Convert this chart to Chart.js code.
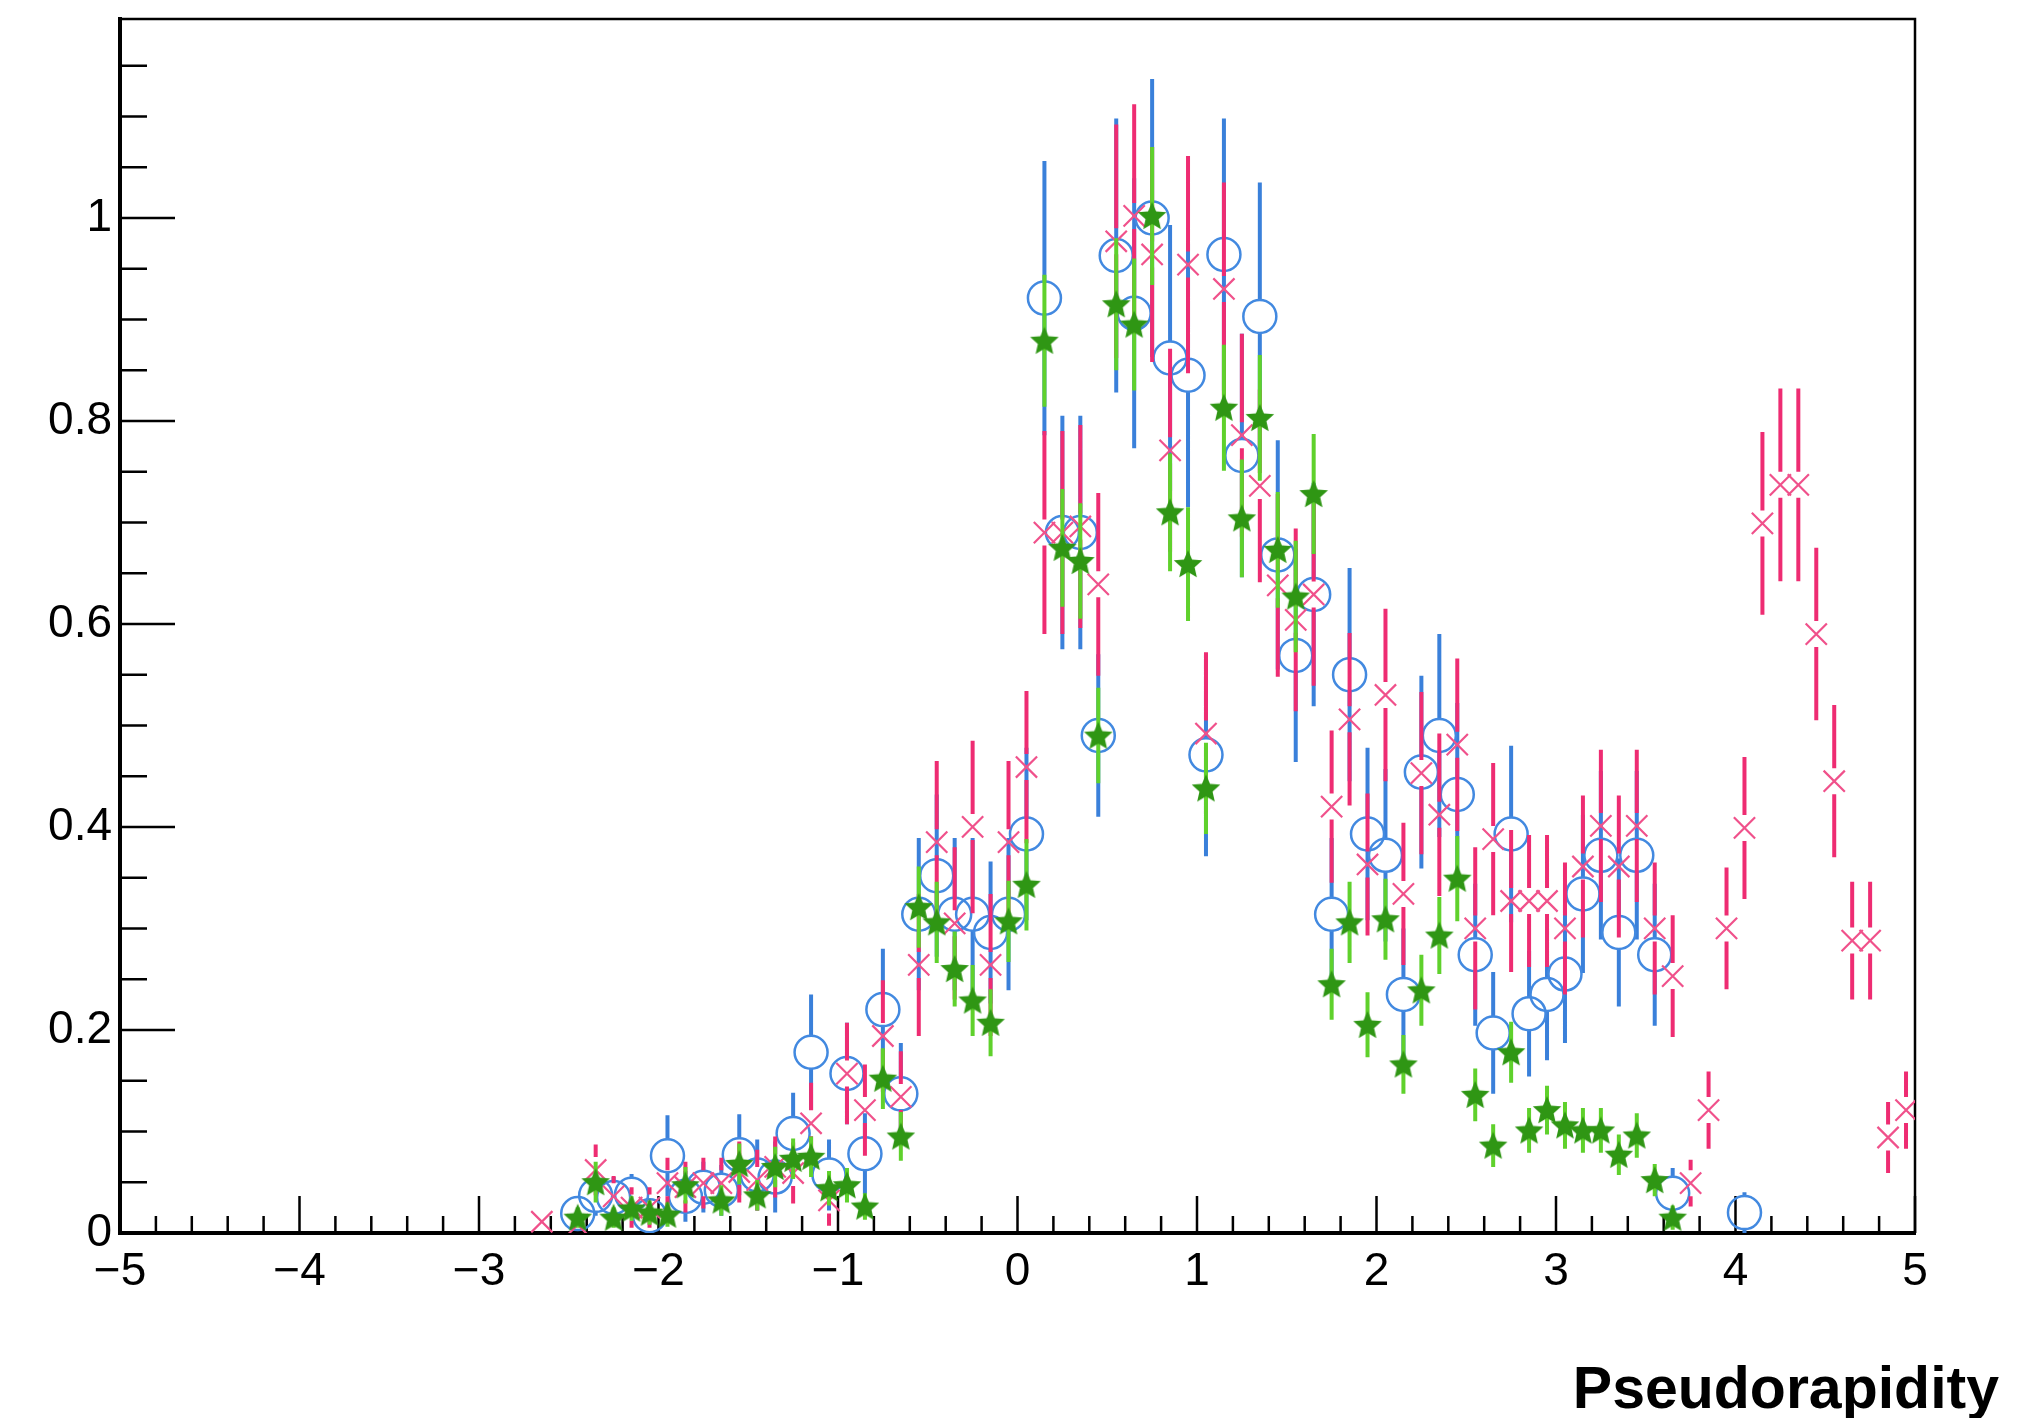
<!DOCTYPE html>
<html lang="en">
<head>
    <meta charset="UTF-8">
    <title>Pseudorapidity</title>
    <script src="https://cdn.jsdelivr.net/npm/chart.js"></script>
    <style>
      html, body { margin: 0; padding: 0; background: #fff; }
      canvas { display: block; }
    </style>
</head>
<body>
  <canvas id="etaChart" width="2029" height="1418"></canvas>

  <script>
    // tick labels
    const xTickValues = [-5, -4, -3, -2, -1, 0, 1, 2, 3, 4, 5];
    const yTickValues = [0, 0.2, 0.4, 0.6, 0.8, 1];

    // blue open circles
    const blueEta = [-2.45, -2.35, -2.25, -2.15, -2.05, -1.95, -1.85, -1.75, -1.65, -1.55, -1.45, -1.35, -1.25, -1.15, -1.05, -0.95, -0.85, -0.75, -0.65,
      -0.55, -0.45, -0.35, -0.25, -0.15, -0.05, 0.05, 0.15, 0.25, 0.35, 0.45, 0.55, 0.65, 0.75, 0.85, 0.95, 1.05, 1.15, 1.25, 1.35, 1.45,
      1.55, 1.65, 1.75, 1.85, 1.95, 2.05, 2.15, 2.25, 2.35, 2.45, 2.55, 2.65, 2.75, 2.85, 2.95, 3.05, 3.15, 3.25, 3.35, 3.45, 3.55, 3.65, 4.05];
    const blueVal = [0.019, 0.037, 0.035, 0.038, 0.017, 0.076, 0.036, 0.045, 0.042, 0.077, 0.057, 0.055, 0.098, 0.178, 0.057, 0.157, 0.078, 0.22, 0.137,
      0.314, 0.352, 0.314, 0.314, 0.296, 0.314, 0.393, 0.921, 0.69, 0.69, 0.49, 0.963, 0.906, 1.0, 0.862, 0.845, 0.471, 0.964, 0.766, 0.903, 0.668,
      0.569, 0.629, 0.314, 0.55, 0.393, 0.372, 0.235, 0.454, 0.49, 0.432, 0.274, 0.197, 0.393, 0.216, 0.235, 0.255, 0.334, 0.372, 0.296, 0.372, 0.274, 0.039, 0.020];
    const blueErr = [0.015, 0.02, 0.02, 0.02, 0.015, 0.04, 0.025, 0.025, 0.025, 0.04, 0.035, 0.035, 0.04, 0.057, 0.035, 0.05, 0.04, 0.06, 0.05,
      0.075, 0.08, 0.075, 0.075, 0.07, 0.075, 0.085, 0.135, 0.115, 0.115, 0.08, 0.135, 0.133, 0.137, 0.131, 0.13, 0.1, 0.134, 0.12, 0.132, 0.113,
      0.105, 0.11, 0.075, 0.105, 0.085, 0.085, 0.065, 0.095, 0.1, 0.09, 0.07, 0.06, 0.087, 0.062, 0.065, 0.068, 0.078, 0.083, 0.073, 0.083, 0.07, 0.025, 0.02];

    // pink crosses
    const pinkEta = [-2.65, -2.45, -2.35, -2.25, -2.15, -2.05, -1.95, -1.85, -1.75, -1.65, -1.55, -1.45, -1.35, -1.25, -1.15, -1.05, -0.95, -0.85, -0.75, -0.65,
      -0.55, -0.45, -0.35, -0.25, -0.15, -0.05, 0.05, 0.15, 0.25, 0.35, 0.45, 0.55, 0.65, 0.75, 0.85, 0.95, 1.05, 1.15, 1.25, 1.35, 1.45,
      1.55, 1.65, 1.75, 1.85, 1.95, 2.05, 2.15, 2.25, 2.35, 2.45, 2.55, 2.65, 2.75, 2.85, 2.95, 3.05, 3.15, 3.25, 3.35, 3.45, 3.55, 3.65,
      3.75, 3.85, 3.95, 4.05, 4.15, 4.25, 4.35, 4.45, 4.55, 4.65, 4.75, 4.85, 4.95];
    const pinkVal = [0.011, 0.008, 0.062, 0.036, 0.025, 0.025, 0.049, 0.045, 0.049, 0.049, 0.06, 0.052, 0.065, 0.059, 0.108, 0.032, 0.157, 0.121, 0.194, 0.134,
      0.264, 0.385, 0.305, 0.40, 0.264, 0.385, 0.459, 0.69, 0.69, 0.696, 0.639, 0.977, 1.002, 0.964, 0.771, 0.954, 0.492, 0.930, 0.786, 0.736, 0.638,
      0.604, 0.629, 0.420, 0.506, 0.363, 0.530, 0.334, 0.453, 0.412, 0.481, 0.300, 0.388, 0.327, 0.327, 0.327, 0.300, 0.361, 0.401, 0.361, 0.401, 0.300, 0.253,
      0.049, 0.121, 0.300, 0.399, 0.699, 0.737, 0.737, 0.590, 0.445, 0.288, 0.288, 0.094, 0.121];
    const pinkErr = [0.01, 0.01, 0.025, 0.02, 0.02, 0.02, 0.025, 0.025, 0.025, 0.025, 0.03, 0.03, 0.03, 0.03, 0.04, 0.025, 0.05, 0.045, 0.055, 0.045,
      0.07, 0.08, 0.075, 0.085, 0.07, 0.08, 0.075, 0.1, 0.1, 0.1, 0.09, 0.115, 0.11, 0.106, 0.1, 0.107, 0.08, 0.105, 0.1, 0.095, 0.09,
      0.09, 0.09, 0.075, 0.085, 0.07, 0.085, 0.07, 0.08, 0.08, 0.085, 0.08, 0.075, 0.07, 0.065, 0.065, 0.065, 0.07, 0.075, 0.07, 0.075, 0.065, 0.06,
      0.023, 0.038, 0.06, 0.07, 0.09, 0.095, 0.095, 0.085, 0.075, 0.058, 0.058, 0.035, 0.038];

    // green stars
    const greenEta = [-2.45, -2.35, -2.25, -2.15, -2.05, -1.95, -1.85, -1.65, -1.55, -1.45, -1.35, -1.25, -1.15, -1.05, -0.95, -0.85, -0.75, -0.65,
      -0.55, -0.45, -0.35, -0.25, -0.15, -0.05, 0.05, 0.15, 0.25, 0.35, 0.45, 0.55, 0.65, 0.75, 0.85, 0.95, 1.05, 1.15, 1.25, 1.35, 1.45,
      1.55, 1.65, 1.75, 1.85, 1.95, 2.05, 2.15, 2.25, 2.35, 2.45, 2.55, 2.65, 2.75, 2.85, 2.95, 3.05, 3.15, 3.25, 3.35, 3.45, 3.55, 3.65];
    const greenVal = [0.015, 0.050, 0.015, 0.024, 0.020, 0.018, 0.047, 0.032, 0.068, 0.037, 0.065, 0.073, 0.075, 0.044, 0.047, 0.026, 0.152, 0.095,
      0.321, 0.306, 0.26, 0.229, 0.207, 0.307, 0.343, 0.879, 0.675, 0.662, 0.49, 0.915, 0.895, 1.002, 0.710, 0.659, 0.438, 0.813, 0.704, 0.803, 0.673,
      0.627, 0.728, 0.245, 0.306, 0.205, 0.309, 0.166, 0.239, 0.293, 0.349, 0.136, 0.086, 0.178, 0.101, 0.121, 0.106, 0.101, 0.101, 0.077, 0.096, 0.052, 0.015];
    const greenErr = [0.01, 0.02, 0.01, 0.012, 0.012, 0.012, 0.018, 0.015, 0.02, 0.015, 0.02, 0.02, 0.02, 0.017, 0.017, 0.013, 0.03, 0.024,
      0.04, 0.04, 0.037, 0.035, 0.033, 0.04, 0.045, 0.065, 0.058, 0.057, 0.047, 0.065, 0.065, 0.068, 0.058, 0.056, 0.045, 0.062, 0.058, 0.062, 0.057,
      0.055, 0.059, 0.035, 0.04, 0.032, 0.04, 0.029, 0.035, 0.038, 0.042, 0.026, 0.021, 0.03, 0.022, 0.024, 0.023, 0.022, 0.022, 0.02, 0.022, 0.016, 0.012];

    Chart.defaults.font.family = "'Liberation Sans', Arial, Helvetica, sans-serif";
    Chart.defaults.color = '#000';

    function toPoints(xs, ys) {
      return xs.map((x, i) => ({ x: x, y: ys[i] }));
    }

    // filled 5-point star used as the green marker
    function makeStar(size, color) {
      const c = document.createElement('canvas');
      c.width = size; c.height = size;
      const g = c.getContext('2d');
      g.fillStyle = color;
      g.beginPath();
      for (let k = 0; k < 10; k++) {
        const r = k % 2 ? size * 0.23 : size * 0.5;
        const a = -Math.PI / 2 + k * Math.PI / 5;
        g.lineTo(size / 2 + r * Math.cos(a), size / 2 + 1 + r * Math.sin(a));
      }
      g.closePath();
      g.fill();
      return c;
    }

    // vertical error bars, drawn just before each dataset's markers
    const errorBars = {
      id: 'errorBars',
      beforeDatasetDraw(chart, args) {
        const ds = chart.data.datasets[args.index];
        if (!ds.errors) return;
        const { ctx, chartArea, scales: { y } } = chart;
        ctx.save();
        ctx.beginPath();
        ctx.rect(chartArea.left, chartArea.top, chartArea.width, chartArea.height);
        ctx.clip();
        ctx.strokeStyle = ds.barColor;
        ctx.lineWidth = 4;
        ctx.beginPath();
        args.meta.data.forEach((pt, i) => {
          const v = ds.data[i].y, e = ds.errors[i];
          const top = y.getPixelForValue(v + e);
          const bot = y.getPixelForValue(v - e);
          const gap = ds.barGap;
          if (pt.y - gap > top) { ctx.moveTo(pt.x, top); ctx.lineTo(pt.x, pt.y - gap); }
          if (pt.y + gap < bot) { ctx.moveTo(pt.x, pt.y + gap); ctx.lineTo(pt.x, bot); }
        });
        ctx.stroke();
        ctx.restore();
      }
    };

    // ROOT style ticks pointing into the frame, plus the frame itself
    const innerTicks = {
      id: 'innerTicks',
      beforeDatasetsDraw(chart) {
        const { ctx, chartArea: a, scales: { x, y } } = chart;
        ctx.save();
        ctx.strokeStyle = '#000';
        ctx.lineWidth = 2.5;
        ctx.beginPath();
        for (let i = -25; i <= 25; i++) {
          const px = x.getPixelForValue(i / 5);
          const len = i % 5 === 0 ? 37 : 17;
          ctx.moveTo(px, a.bottom);
          ctx.lineTo(px, a.bottom - len);
        }
        for (let i = 0; i <= 23; i++) {
          const py = y.getPixelForValue(i * 0.05);
          const len = i % 4 === 0 ? 55 : 27;
          ctx.moveTo(a.left, py);
          ctx.lineTo(a.left + len, py);
        }
        ctx.stroke();
        ctx.lineWidth = 2.5;
        ctx.beginPath();
        ctx.moveTo(a.left, a.top);
        ctx.lineTo(a.right, a.top);
        ctx.lineTo(a.right, a.bottom);
        ctx.stroke();
        ctx.restore();
      }
    };

    const ctx = document.getElementById('etaChart').getContext('2d');
    new Chart(ctx, {
      type: 'scatter',
      data: {
        datasets: [
          {
            label: 'green',
            order: 0,
            data: toPoints(greenEta, greenVal),
            errors: greenErr,
            barColor: '#5fd12c',
            barGap: 0,
            pointStyle: makeStar(30, '#2f9614'),
            pointRadius: 15,
            borderWidth: 0
          },
          {
            label: 'pink',
            order: 1,
            data: toPoints(pinkEta, pinkVal),
            errors: pinkErr,
            barColor: '#ee2c72',
            barGap: 13,
            pointStyle: 'crossRot',
            pointRadius: 15,
            borderColor: '#f0518b',
            backgroundColor: '#f0518b',
            borderWidth: 2.2
          },
          {
            label: 'blue',
            order: 2,
            data: toPoints(blueEta, blueVal),
            errors: blueErr,
            barColor: '#3a80da',
            barGap: 16,
            pointStyle: 'circle',
            pointRadius: 16.5,
            borderColor: '#4289e0',
            backgroundColor: 'rgba(0,0,0,0)',
            borderWidth: 2.5
          }
        ]
      },
      options: {
        responsive: false,
        devicePixelRatio: 1,
        animation: false,
        events: [],
        layout: { padding: { left: 0, right: 30, top: 16, bottom: 0 } },
        plugins: {
          legend: { display: false },
          tooltip: { enabled: false },
          title: {
            display: true,
            position: 'bottom',
            align: 'end',
            text: 'Pseudorapidity',
            color: '#000',
            font: { size: 59, weight: 'bold', lineHeight: 0.9 },
            padding: 0
          }
        },
        scales: {
          x: {
            type: 'linear',
            position: 'bottom',
            min: -5,
            max: 5,
            afterBuildTicks: s => { s.ticks = xTickValues.map(v => ({ value: v })); },
            afterFit: s => { s.height = 132; },
            grid: { display: false, drawTicks: false },
            border: { display: true, color: '#000', width: 4 },
            ticks: {
              padding: 12,
              maxRotation: 0,
              font: { size: 46 },
              color: '#000',
              callback: v => (v < 0 ? '\u2212' + Math.abs(v) : String(v))
            }
          },
          y: {
            type: 'linear',
            position: 'left',
            min: 0,
            max: 1.196,
            afterBuildTicks: s => { s.ticks = yTickValues.map(v => ({ value: v })); },
            afterFit: s => { s.width = 120; s.paddingTop = 0; s.paddingBottom = 0; },
            grid: { display: false, drawTicks: false },
            border: { display: true, color: '#000', width: 4 },
            ticks: {
              padding: 8,
              font: { size: 46 },
              color: '#000',
              callback: v => String(+v.toFixed(1))
            }
          },
          yR: {
            type: 'linear',
            position: 'right',
            display: true,
            afterFit: s => { s.width = 84; s.paddingTop = 0; s.paddingBottom = 0; },
            grid: { display: false, drawTicks: false },
            border: { display: false },
            ticks: { display: false }
          }
        }
      },
      plugins: [innerTicks, errorBars]
    });
  </script>
</body>
</html>
